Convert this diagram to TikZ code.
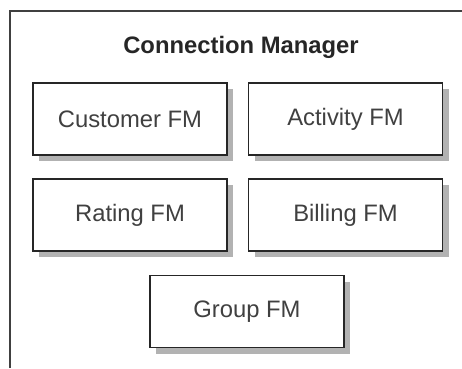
\documentclass[tikz,border=0pt]{standalone}
\usepackage{fontspec}
\setmainfont{Liberation Sans}
\usetikzlibrary{shadows}

\begin{document}
\begin{tikzpicture}[x=1pt, y=-1pt]
	\tikzstyle{fm} = [draw=black!85, line width=1.6pt, fill=white, minimum width=194pt, minimum height=72pt, inner sep=0pt, text=black!75, font=\fontsize{23.8}{28}\selectfont, drop shadow={shadow xshift=6pt, shadow yshift=-6pt, fill=black!30, opacity=1}]
	\tikzstyle{title} = [font=\fontsize{23.8}{28}\selectfont\bfseries, text=black!85]
	\useasboundingbox (0,0) rectangle (462,368);
	\draw [line width=1.8pt, black!75] (10,368) -- (10,11) -- (463,11);
	\node [title] (cm) at (241, 47) {Connection Manager};
	\node [fm] (customer) at (130, 119) {Customer FM};
	\node [fm] (activity) at (345.5, 119) {Activity FM};
	\node [fm] (rating) at (130, 215) {Rating FM};
	\node [fm] (billing) at (345.5, 215) {Billing FM};
	\node [fm] (group) at (247, 311.5) {Group FM};
\end{tikzpicture}
\end{document}
